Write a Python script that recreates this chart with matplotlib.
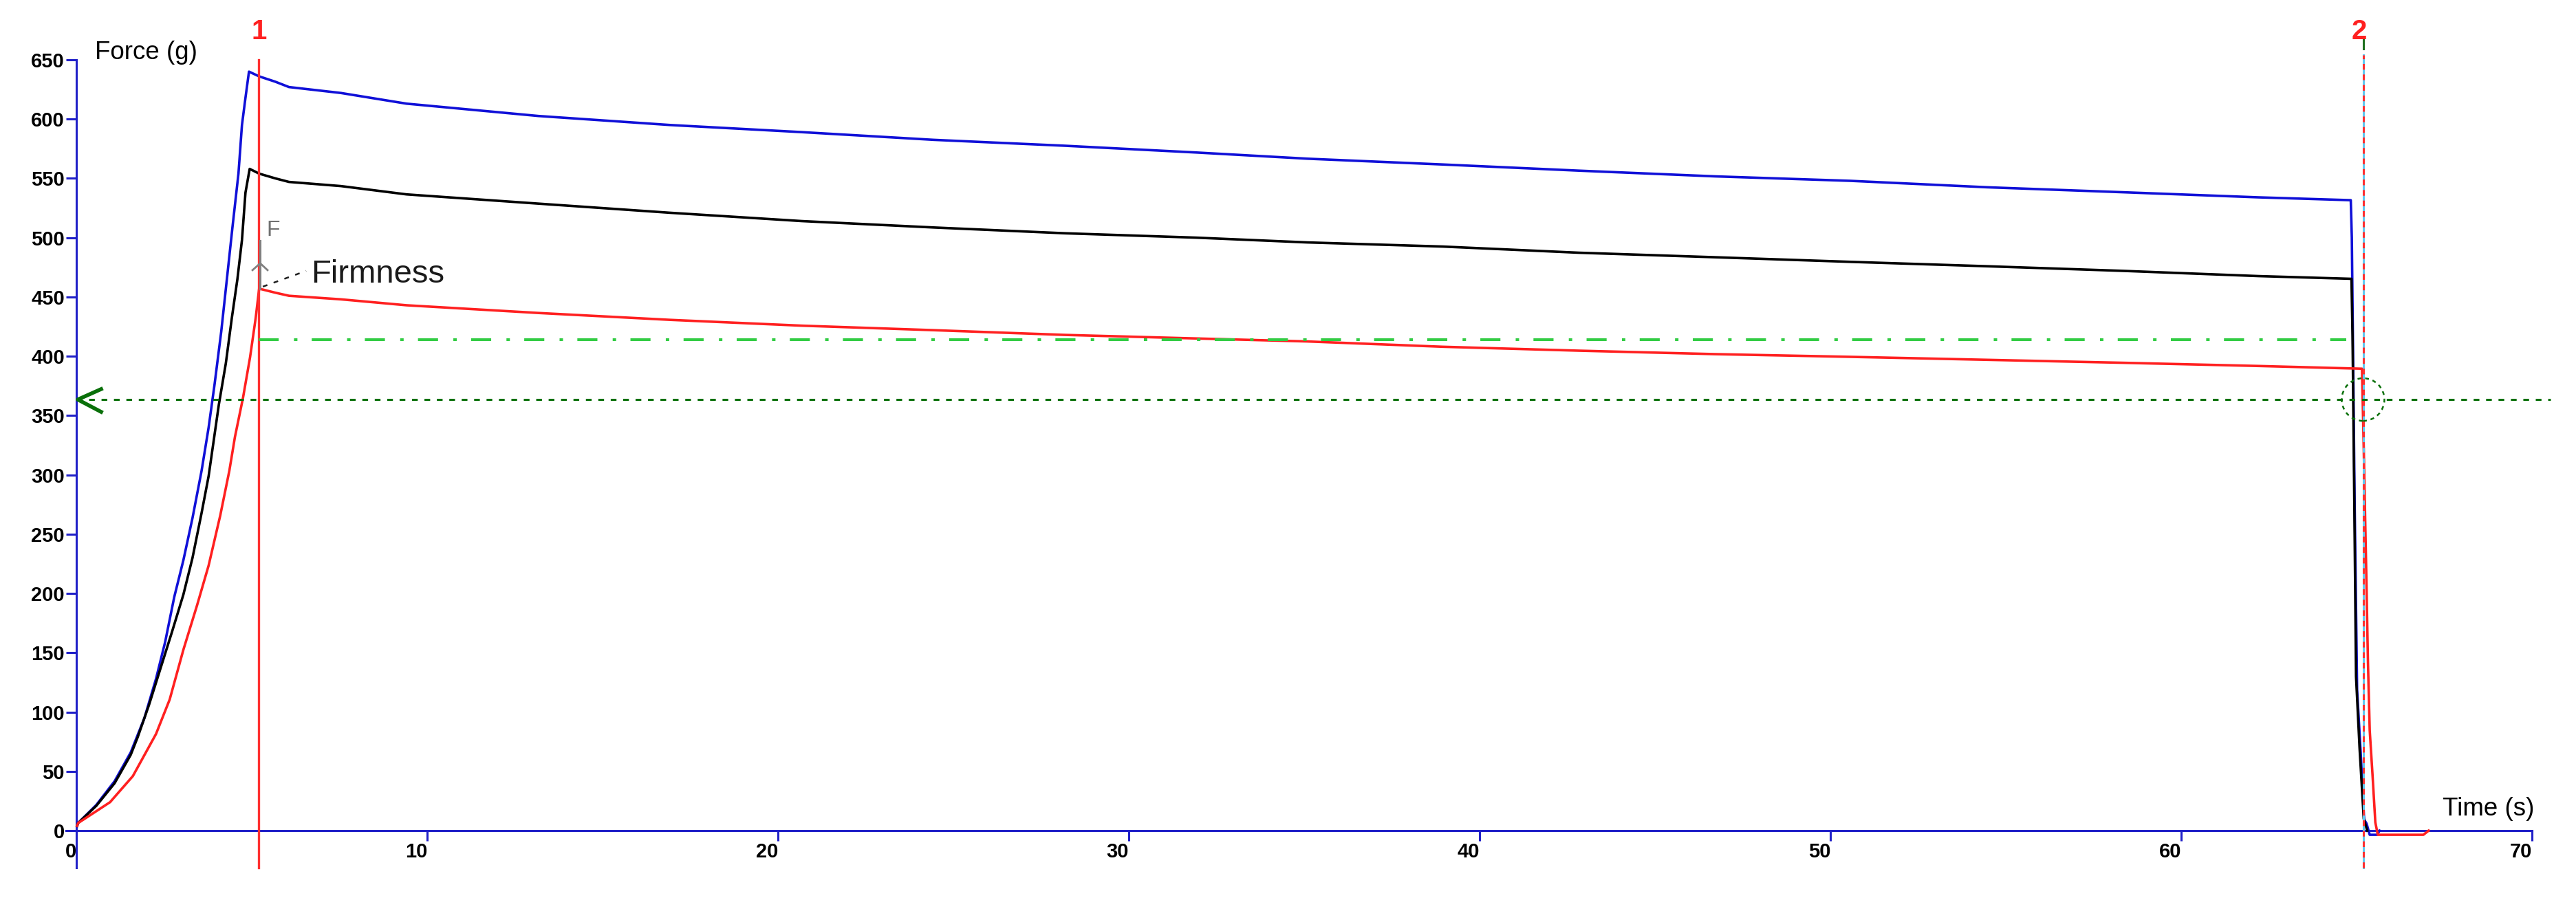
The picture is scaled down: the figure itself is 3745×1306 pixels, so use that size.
import matplotlib
matplotlib.use("Agg")
import matplotlib.pyplot as plt
from matplotlib import font_manager
from matplotlib.patches import Ellipse

plt.rcParams["lines.scale_dashes"] = False
plt.rcParams["font.family"] = ["Liberation Sans", "DejaVu Sans"]

# texture analyser trace (time in s, force in g)
blue_t = [0.02, 0.05, 0.57, 1.09, 1.55, 1.94, 2.27, 2.53, 2.79, 3.05, 3.31, 3.57, 3.77, 3.94,
          4.13, 4.29, 4.45, 4.62, 4.72, 4.82, 4.92, 5.21, 5.67, 6.06, 7.54, 9.41, 13.17, 16.92,
          20.67, 24.43, 28.18, 31.93, 35.08, 38.95, 42.83, 46.7, 50.58, 54.46, 58.34, 62.2,
          64.83, 64.86, 64.94, 65.01, 65.11, 65.21, 65.28, 65.37, 65.58, 65.65]
blue_f = [4, 6.4, 21.7, 41.7, 66, 95, 128, 159, 197, 228, 263.6, 303.6, 340, 376.5,
          421, 465, 509, 554, 595, 618, 640, 636, 631.5, 627, 622, 613, 602.6, 595,
          589, 582.5, 577.5, 571.8, 566.6, 561.7, 556.5, 551.7, 547.9, 542.5, 538.3, 534,
          531.6, 500, 277.5, 119, 67, 9.4, 6, -3.5, -3.5, 0]

black_t = [0.02, 0.05, 0.57, 1.09, 1.55, 1.75, 2.07, 2.40, 2.73, 3.05, 3.31, 3.57, 3.77, 4.06,
           4.26, 4.43, 4.59, 4.72, 4.82, 4.94, 5.21, 5.67, 6.06, 7.54, 9.41, 13.17, 16.92,
           20.67, 24.43, 28.18, 31.93, 35.08, 38.95, 42.83, 46.7, 50.58, 54.46, 58.34, 62.2,
           64.85, 64.88, 64.93, 64.98, 65.08, 65.2, 65.3]
black_f = [4, 6.4, 21, 40, 64, 79, 106, 137, 168, 199, 230, 268, 299, 359,
           394, 432, 465, 498, 538, 558, 554, 550, 547, 543.5, 536.5, 528.7, 521,
           514, 508.6, 503.7, 500, 496, 492.5, 487.3, 483.5, 479.6, 475.9, 472, 467.6,
           465.3, 418, 280, 130, 70, 10, 0]

red_t = [0.02, 0.05, 0.96, 1.61, 2.27, 2.66, 3.05, 3.44, 3.77, 4.10, 4.36, 4.52, 4.75, 4.95,
         5.11, 5.21, 5.67, 6.06, 7.54, 9.41, 13.17, 16.92, 20.67, 24.43, 28.18, 31.93, 35.08,
         38.95, 42.83, 46.7, 50.58, 54.46, 58.34, 62.2, 65.15, 65.2, 65.27, 65.32, 65.37,
         65.45, 65.53, 65.6, 66.9, 67.05]
red_f = [4, 6.4, 24, 46, 81.5, 110.6, 152.5, 190, 223.6, 265.6, 303.4, 332, 365, 399,
         432, 457, 453.6, 451, 448, 443, 436.5, 430.7, 425.8, 422, 418, 415, 412.5,
         408, 404.7, 401.8, 399.5, 397, 394.5, 391.8, 389.5, 322, 220, 142, 84.6,
         47, 7, -3.5, -3.5, 0]

x_ticks = [0, 10, 20, 30, 40, 50, 60, 70]
y_ticks = [0, 50, 100, 150, 200, 250, 300, 350, 400, 450, 500, 550, 600, 650]

marker_1 = 5.2
marker_2 = 65.2
firmness = 457
target_force = 413.7
threshold_force = 363.5

AXIS_BLUE = "#2020c8"
names = {f.name for f in font_manager.fontManager.ttflist}
if "Liberation Sans Narrow" in names:
    tick_font = dict(family="Liberation Sans Narrow", size=24, weight="bold")
else:
    tick_font = dict(family="Liberation Sans", size=21, weight="bold")

fig = plt.figure(figsize=(37.45, 13.06), dpi=100)
ax = fig.add_axes([0, 0, 1, 1])
ax.set_xlim(-2.177, 71.25)
ax.set_ylim(-56.8, 700.4)

for side in ["top", "right"]:
    ax.spines[side].set_visible(False)
ax.spines["left"].set_position(("data", 0))
ax.spines["bottom"].set_position(("data", 0))
ax.spines["left"].set_bounds(-31, 650)
ax.spines["bottom"].set_bounds(-0.3, 70)
for side in ["left", "bottom"]:
    ax.spines[side].set_color(AXIS_BLUE)
    ax.spines[side].set_linewidth(2.2)

ax.set_xticks(x_ticks)
ax.set_yticks(y_ticks)
ax.set_xticklabels([str(v) for v in x_ticks], ha="right", **tick_font)
ax.set_yticklabels([str(v) for v in y_ticks], **tick_font)
ax.tick_params(axis="both", direction="out", length=10.8, width=2.2, color=AXIS_BLUE, pad=1.5)

# curves
ax.plot(blue_t, blue_f, color="#1010d8", lw=2.6, zorder=3)
ax.plot(black_t, black_f, color="black", lw=2.6, zorder=3)
ax.plot(red_t, red_f, color="#ff2020", lw=2.6, zorder=3)

# marker lines
ax.plot([marker_1, marker_1], [-31, 650], color="#ff3030", lw=2.4, zorder=4)
ax.plot([marker_2, marker_2], [-31, 654], color="#5ec8f0", lw=2.2, zorder=4)
ax.plot([marker_2, marker_2], [-31, 654], color="#ff3030", lw=2.2, dashes=(6, 5), zorder=5)
ax.plot([marker_2, marker_2], [659, 667], color="#207020", lw=2.2, zorder=5)
ax.text(marker_1, 674, "1", color="#ff2020", fontsize=29, fontweight="bold", ha="center", va="center")
ax.text(65.07, 674, "2", color="#ff2020", fontsize=29, fontweight="bold", ha="center", va="center")

# target / threshold lines
ax.plot([marker_1, 64.7], [target_force, target_force], color="#33cc44", lw=2.9,
        dashes=(21, 16, 3.6, 15), zorder=6)
ax.plot([0, 70.53], [threshold_force, threshold_force], color="#0a700a", lw=2.2,
        dashes=(6, 7), zorder=6)
ax.plot([0.706, 0.04, 0.706], [372.3, threshold_force, 353.1], color="#0a700a", lw=4.0, zorder=6)
ax.add_patch(Ellipse((65.18, threshold_force), 1.216, 36, fill=False, edgecolor="#0a700a",
                     lw=1.8, linestyle=(0, (4, 4)), zorder=6))

# firmness annotation
ax.plot([5.24, 5.24], [firmness, 497.5], color="#808080", lw=2.2, zorder=6)
ax.plot([5.02, 5.24, 5.45], [472.6, 478.4, 472.6], color="#808080", lw=2.0, zorder=6)
ax.text(5.41, 501.6, "F", color="#707070", fontsize=23, va="baseline")
ax.plot([5.315, 6.55], [458.7, 472], color="#202020", lw=1.8, dashes=(5, 7), zorder=6)
ax.text(6.69, 462.1, "Firmness", color="#1a1a1a", fontsize=34, va="baseline")

ax.text(0.53, 650.6, "Force (g)", fontsize=26.5, va="baseline")
ax.text(70.06, 12.8, "Time (s)", fontsize=26.5, va="baseline", ha="right")

fig.savefig("out.png", dpi=100)
plt.close(fig)
